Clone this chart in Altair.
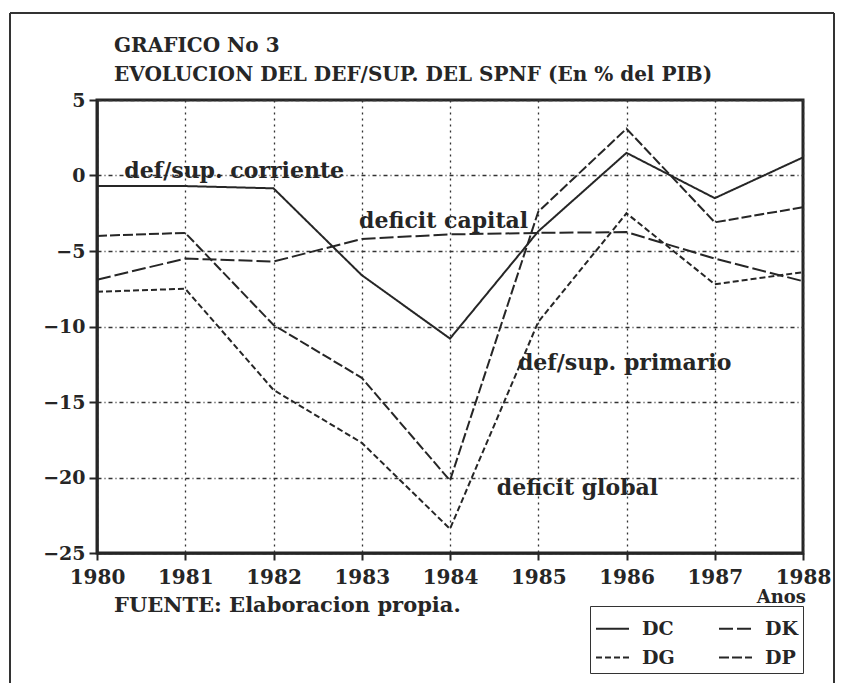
import altair as alt
import pandas as pd

# ---- data ----
years = [1980, 1981, 1982, 1983, 1984, 1985, 1986, 1987, 1988]
dc = [-0.7, -0.7, -0.85, -6.6, -10.8, -3.7, 1.5, -1.5, 1.2]      # def/sup. corriente
dk = [-6.9, -5.5, -5.7, -4.2, -3.9, -3.8, -3.75, -5.5, -7.0]    # deficit capital
dg = [-7.7, -7.5, -14.2, -17.7, -23.4, -9.7, -2.5, -7.2, -6.4]  # deficit global
dp = [-4.0, -3.8, -9.9, -13.4, -20.2, -2.4, 3.1, -3.1, -2.1]    # def/sup. primario

series_names = ["DC", "DK", "DG", "DP"]
series_values = [dc, dk, dg, dp]
series_dash = [[1, 0], [14, 4], [6, 3], [10, 3]]

label_texts = ["def/sup. corriente", "deficit capital", "def/sup. primario", "deficit global"]
label_years = [1980.31, 1982.97, 1984.77, 1984.53]
label_values = [0.3, -3.0, -12.4, -20.7]

title_line1 = ["GRAFICO No 3"]
title_line2 = ["EVOLUCION DEL DEF/SUP. DEL SPNF (En % del PIB)"]
source_text = ["FUENTE: Elaboracion propia."]
xaxis_title = ["Anos"]

y_ticks = [5, 0, -5, -10, -15, -20, -25]

FONT = "DejaVu Serif"
INK = "#262626"

rows = []
for name, vals in zip(series_names, series_values):
    for yr, v in zip(years, vals):
        rows.append({"year": yr, "value": v, "series": name})
df = pd.DataFrame(rows)

labels_df = pd.DataFrame({"year": label_years, "value": label_values, "text": label_texts})

xscale = alt.Scale(domain=[1980, 1988], nice=False, zero=False)
yscale = alt.Scale(domain=[-25, 5], nice=False, zero=False)

lines = alt.Chart(df).mark_line(color=INK, strokeWidth=2).encode(
    x=alt.X("year:Q", scale=xscale,
            axis=alt.Axis(values=years, format="d", title=None, grid=True,
                          gridDash=[2, 4], gridColor="#333", gridWidth=1.3,
                          domainColor=INK, domainWidth=2.5, tickColor=INK,
                          tickSize=7, tickWidth=2, labelPadding=7, labelFlush=False,
                          labelFont=FONT, labelFontSize=20, labelFontWeight="bold",
                          labelColor=INK)),
    y=alt.Y("value:Q", scale=yscale,
            axis=alt.Axis(values=y_ticks, title=None, grid=True,
                          gridDash=[4, 3, 1, 3], gridColor="#333", gridWidth=1.3,
                          domainColor=INK, domainWidth=2.5, tickColor=INK,
                          tickSize=8, tickWidth=2, labelPadding=4, labelFlush=False,
                          labelFont=FONT, labelFontSize=19, labelFontWeight="bold",
                          labelColor=INK)),
    strokeDash=alt.StrokeDash("series:N",
                              scale=alt.Scale(domain=series_names, range=series_dash),
                              legend=alt.Legend(orient="none", legendX=493, legendY=506,
                                                direction="horizontal",
                                                title=None, columns=2,
                                                symbolType="stroke", symbolSize=1089,
                                                symbolStrokeWidth=2, symbolStrokeColor=INK,
                                                labelFont=FONT, labelFontSize=19,
                                                labelFontWeight="bold", labelColor=INK,
                                                labelOffset=12, strokeColor="#333",
                                                fillColor="white", padding=5,
                                                columnPadding=40, rowPadding=1)),
    detail="series:N",
)

line_labels = alt.Chart(labels_df).mark_text(
    align="left", baseline="middle", font=FONT, fontSize=22,
    fontWeight="bold", color=INK
).encode(x=alt.X("year:Q", scale=xscale), y=alt.Y("value:Q", scale=yscale), text="text:N")

def note(texts, x, y, size, align="left"):
    return alt.Chart(pd.DataFrame({"t": texts})).mark_text(
        align=align, baseline="middle", font=FONT, fontSize=size,
        fontWeight="bold", color=INK
    ).encode(x=alt.value(x), y=alt.value(y), text="t:N")

title1 = note(title_line1, 17, -54, 20)
title2 = note(title_line2, 17, -25, 20)
source = note(source_text, 17, 506, 21)
anos = note(xaxis_title, 709, 498, 18, align="right")

frame_df = pd.DataFrame({"k": [0]})
frame_top = alt.Chart(frame_df).mark_rule(color="#333", strokeWidth=2).encode(
    x=alt.value(-87), x2=alt.value(737), y=alt.value(-87))
frame_left = alt.Chart(frame_df).mark_rule(color="#333", strokeWidth=2).encode(
    x=alt.value(-87), y=alt.value(-87), y2=alt.value(700))
frame_right = alt.Chart(frame_df).mark_rule(color="#333", strokeWidth=2).encode(
    x=alt.value(737), y=alt.value(-87), y2=alt.value(700))

chart = alt.layer(
    lines, line_labels, title1, title2, source, anos, frame_top, frame_left, frame_right
).properties(
    width=706, height=453,
    autosize=alt.AutoSizeParams(type="none"),
    padding={"left": 89, "top": 92, "right": 32, "bottom": 130},
    background="white",
).configure_view(stroke=INK, strokeWidth=3)

chart.save("out.html", embed_options={"renderer": "svg", "actions": False})
